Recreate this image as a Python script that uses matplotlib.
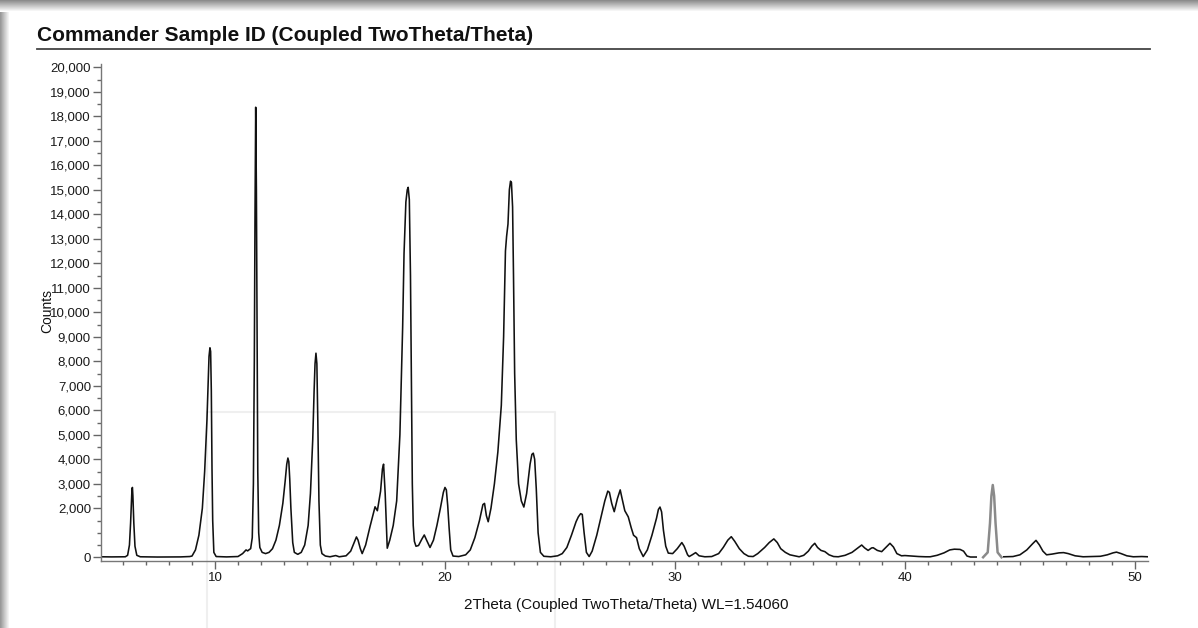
import numpy as np
import matplotlib
matplotlib.use('Agg')
import matplotlib.pyplot as plt
from matplotlib.lines import Line2D
from matplotlib.ticker import FixedLocator, FuncFormatter

plt.rcParams['font.family'] = ['Liberation Sans', 'DejaVu Sans']

# scan (2theta, counts); nan marks the break round the grey peak
two_theta = [5.05, 5.5, 5.9, 6.10, 6.20, 6.28, 6.33, 6.37, 6.39, 6.41, 6.43, 6.47, 6.52, 6.60, 6.75,
             7.5, 8.5, 8.9, 9.00, 9.15, 9.30, 9.45, 9.55, 9.65, 9.70, 9.74, 9.78, 9.81, 9.84, 9.87,
             9.90, 9.95, 10.05, 10.5, 11.0, 11.2, 11.35, 11.42, 11.5, 11.55, 11.62, 11.67, 11.71,
             11.74, 11.77, 11.80, 11.83, 11.86, 11.90, 11.95, 12.05, 12.2, 12.35, 12.5, 12.65, 12.8,
             12.95, 13.05, 13.12, 13.17, 13.21, 13.25, 13.30, 13.38, 13.45, 13.6, 13.75, 13.9, 14.05,
             14.15, 14.25, 14.31, 14.35, 14.39, 14.43, 14.47, 14.52, 14.58, 14.65, 14.8, 15.0,
             15.25, 15.4, 15.7, 15.9, 16.05, 16.15, 16.22, 16.32, 16.4, 16.55, 16.74, 16.96, 17.06,
             17.2, 17.28, 17.33, 17.4, 17.49, 17.6, 17.75, 17.9, 18.04, 18.16, 18.22, 18.30, 18.36,
             18.40, 18.45, 18.50, 18.54, 18.58, 18.62, 18.67, 18.74, 18.85, 19.0, 19.1, 19.2, 19.35,
             19.5, 19.65, 19.8, 19.93, 20.0, 20.06, 20.12, 20.18, 20.25, 20.35, 20.6, 20.9, 21.1,
             21.3, 21.5, 21.65, 21.72, 21.8, 21.88, 22.0, 22.15, 22.3, 22.45, 22.55, 22.63, 22.68,
             22.74, 22.80, 22.85, 22.89, 22.94, 22.98, 23.03, 23.1, 23.2, 23.32, 23.43, 23.55, 23.7,
             23.78, 23.84, 23.9, 23.97, 24.05, 24.15, 24.3, 24.6, 24.9, 25.1, 25.3, 25.5, 25.7,
             25.8, 25.9, 25.97, 26.05, 26.15, 26.27, 26.4, 26.6, 26.8, 26.95, 27.08, 27.15, 27.25,
             27.36, 27.5, 27.62, 27.7, 27.82, 27.97, 28.1, 28.2, 28.33, 28.45, 28.62, 28.8, 29.0,
             29.2, 29.28, 29.35, 29.42, 29.5, 29.6, 29.71, 29.9, 30.1, 30.3, 30.4, 30.55, 30.62,
             30.75, 30.9, 31.05, 31.3, 31.6, 31.9, 32.1, 32.3, 32.45, 32.6, 32.8, 33.0, 33.2, 33.4,
             33.6, 33.9, 34.1, 34.3, 34.45, 34.6, 34.8, 35.0, 35.2, 35.4, 35.6, 35.8, 35.95, 36.08,
             36.2, 36.35, 36.52, 36.7, 36.9, 37.1, 37.4, 37.7, 37.95, 38.12, 38.25, 38.4, 38.55,
             38.62, 38.8, 38.99, 39.15, 39.35, 39.5, 39.65, 39.85, 40.0, 40.3, 40.6, 40.9, 41.1,
             41.4, 41.7, 41.95, 42.15, 42.4, 42.55, 42.7, 42.85, 43.1, np.nan,
             44.3, 44.7, 45.0, 45.3, 45.55, 45.7, 45.85, 46.0, 46.16, 46.4, 46.7, 46.9, 47.1, 47.4,
             47.75, 48.1, 48.5, 48.8, 49.05, 49.2, 49.4, 49.65, 49.93, 50.3, 50.57]
counts = [20, 15, 20, 20, 80, 500, 1400, 2400, 2800, 2850, 2500, 1400, 450, 80, 20,
          10, 15, 30, 50, 300, 900, 2000, 3500, 5600, 7100, 8200, 8550, 8400, 6800, 3600,
          1500, 200, 30, 15, 30, 150, 300, 260, 320, 350, 800, 3000, 8000,
          14000, 18370, 15000, 9000, 3500, 1000, 400, 200, 150, 200, 350, 700, 1300,
          2200, 3100, 3800, 4050, 3900, 3200, 2000, 600, 200, 120, 200, 500, 1300,
          2600, 4800, 6800, 7900, 8330, 7900, 5600, 2300, 500, 150, 50, 20,
          70, 20, 60, 250, 600, 830, 700, 350, 150, 500, 1250, 2060, 1900,
          2700, 3600, 3800, 2600, 370, 700, 1300, 2300, 5000, 9400, 12400, 14500, 15000,
          15100, 14600, 11500, 7000, 3000, 1300, 650, 450, 480, 750, 910, 700, 400,
          700, 1300, 2000, 2650, 2850, 2750, 2100, 1200, 300, 50, 30, 100, 300,
          800, 1500, 2150, 2200, 1700, 1450, 2000, 3000, 4300, 6200, 9000, 12500, 13100,
          13600, 15000, 15350, 15300, 14300, 11500, 7500, 4800, 3000, 2300, 2050, 2600, 3800,
          4200, 4250, 4000, 2800, 1000, 200, 40, 20, 60, 150, 400, 900, 1450,
          1650, 1780, 1750, 1000, 200, 30, 250, 900, 1700, 2300, 2700, 2650, 2200,
          1860, 2400, 2750, 2400, 1900, 1650, 1200, 900, 800, 350, 30, 300, 900,
          1600, 1950, 2050, 1850, 1100, 450, 170, 150, 350, 600, 450, 100, 30,
          100, 190, 60, 20, 30, 150, 400, 700, 840, 650, 350, 150, 40, 30,
          150, 400, 600, 750, 600, 350, 200, 100, 60, 20, 80, 250, 450, 570,
          400, 280, 230, 100, 30, 20, 80, 200, 380, 500, 380, 280, 380,
          390, 280, 230, 380, 570, 420, 150, 60, 70, 50, 30, 20, 20,
          80, 180, 300, 330, 320, 250, 50, 10, 10, np.nan,
          20, 30, 100, 300, 550, 690, 500, 250, 100, 130, 180, 190, 150, 60,
          20, 30, 40, 100, 180, 210, 150, 60, 20, 30, 20]

# the separate narrow peak drawn in grey
peak_theta = [43.40, 43.60, 43.70, 43.76, 43.82, 43.88, 43.94, 44.03, 44.20]
peak_counts = [0, 200, 1400, 2500, 2950, 2500, 1400, 200, 0]

y_major = [0, 2000, 3000, 4000, 5000, 6000, 7000, 8000, 9000, 10000, 11000, 12000,
           13000, 14000, 15000, 16000, 17000, 18000, 19000, 20000]
x_major = [10, 20, 30, 40, 50]

W, H = 1198, 628
fig = plt.figure(figsize=(W / 100, H / 100), dpi=100)
ax = fig.add_axes([100.7 / W, 67.3 / H, 1047.3 / W, 497.1 / H])
ax.patch.set_visible(False)

ax.plot(two_theta, counts, color='#111111', lw=1.15, solid_joinstyle='round')
ax.plot(peak_theta, peak_counts, color='#8a8a8a', lw=1.8)

ax.set_xlim(5.03, 50.57)
ax.set_ylim(-140, 20150)

for s in ['top', 'right']:
    ax.spines[s].set_visible(False)
for s in ['left', 'bottom']:
    ax.spines[s].set_color('#777777')
    ax.spines[s].set_linewidth(1.0)

ax.yaxis.set_major_locator(FixedLocator(y_major))
ax.yaxis.set_minor_locator(FixedLocator([v for v in range(500, 20000, 500) if v not in y_major]))
ax.yaxis.set_major_formatter(FuncFormatter(lambda v, p: '{:,.0f}'.format(v)))
ax.xaxis.set_major_locator(FixedLocator(x_major))
ax.xaxis.set_minor_locator(FixedLocator([v for v in range(6, 51) if v not in x_major]))

ax.tick_params(axis='y', which='major', length=6, width=1, color='#666666',
               labelsize=9.5, labelcolor='#1a1a1a', pad=1)
ax.tick_params(axis='y', which='minor', length=3, width=1, color='#666666')
ax.tick_params(axis='x', which='major', length=6, width=1, color='#666666',
               labelsize=9.5, labelcolor='#1a1a1a', pad=2)
ax.tick_params(axis='x', which='minor', length=3, width=1, color='#666666')

fig.text(626 / W, 1 - 605 / H, '2Theta (Coupled TwoTheta/Theta) WL=1.54060',
         ha='center', va='center', fontsize=11, color='#111111')
fig.text(47 / W, 1 - 311 / H, 'Counts', ha='center', va='center', rotation=90,
         fontsize=10, color='#111111')

fig.text(37 / W, 1 - 40.7 / H, 'Commander Sample ID (Coupled TwoTheta/Theta)',
         ha='left', va='baseline', fontsize=15, fontweight='bold', color='#111111')
fig.add_artist(Line2D([37 / W, 1150 / W], [1 - 49.3 / H, 1 - 49.3 / H],
                      color='#444444', lw=1.3))

# faint outline left in the screenshot
fig.add_artist(Line2D([207 / W, 207 / W, 555 / W, 555 / W],
                      [0, 1 - 412 / H, 1 - 412 / H, 0], color='#efefef', lw=1.5, zorder=0))

# screenshot edges: grey band on top and shadow on the left
top = np.linspace(0.55, 1.0, 12).reshape(-1, 1)
fig.figimage(np.repeat(top, W, axis=1), xo=0, yo=H - 12, cmap='gray', vmin=0, vmax=1, origin='upper')
left = np.linspace(0.6, 1.0, 10).reshape(1, -1)
fig.figimage(np.repeat(left, H - 12, axis=0), xo=0, yo=0, cmap='gray', vmin=0, vmax=1)

fig.savefig('out.png', dpi=100)
